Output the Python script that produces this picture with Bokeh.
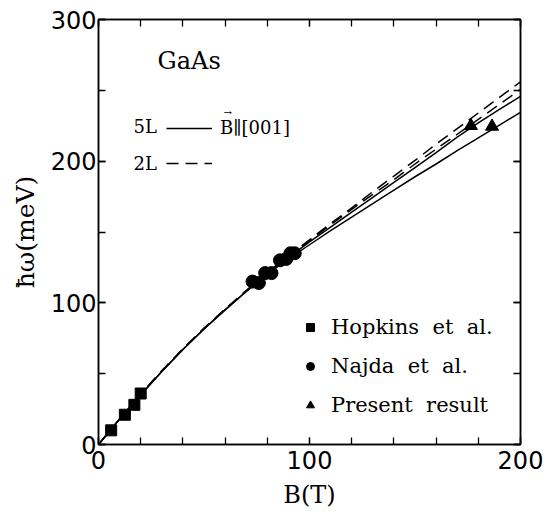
from bokeh.plotting import figure
from bokeh.models import (Range1d, LinearAxis, SingleIntervalTicker, Legend, LegendItem, Label,
                          CustomJSTickFormatter)
from bokeh.embed import file_html
from bokeh.resources import INLINE

# ---- data ----
B_curve = [0, 10, 20, 30, 40, 50, 60, 70, 80, 90, 100, 110, 120, 130, 140, 150, 160, 170, 180, 190, 200]
solid_upper = [0, 18, 35, 51.5, 67, 81.5, 95, 108, 120.5, 132, 143, 153.5, 164, 174.5, 185, 195.5, 206, 217, 227, 236.5, 245.8]
solid_lower = [0, 18, 35, 51.5, 67, 81.5, 95, 108, 120.3, 131, 141, 151, 160.5, 170, 179.5, 189, 198, 207.5, 216.5, 225.5, 234.5]
dash_lower = [0, 18, 35.5, 52, 67.5, 82, 95.5, 108.5, 121, 132.5, 144, 155, 166, 176.5, 187, 198, 208.5, 219, 229.5, 240, 250.7]
dash_upper = [0, 18, 35.5, 52, 67.5, 82, 95.5, 108.7, 121.5, 133, 144.5, 156, 167, 178.5, 189.5, 200.5, 212, 223, 234, 245, 256]

hopkins_B = [6, 12.5, 17, 20]
hopkins_w = [10, 21, 28, 36]
najda_B = [73, 76, 79, 82, 86, 89, 91, 93]
najda_w = [115, 114, 121, 121, 130, 131, 135, 135]
present_B = [176.5, 186.5]
present_w = [225, 224.5]

serif = "DejaVu Serif"
sans = "DejaVu Sans"

p = figure(width=553, height=517, x_range=Range1d(0, 200), y_range=Range1d(0, 300),
           output_backend="svg", toolbar_location=None,
           min_border_left=98, min_border_right=33, min_border_top=19, min_border_bottom=73,
           x_axis_location=None, y_axis_location=None)
p.grid.visible = False
p.outline_line_color = "black"
p.outline_line_width = 1.5
p.background_fill_color = "white"
p.border_fill_color = "white"

blank = CustomJSTickFormatter(code="return ''")


def style_axis(ax, labels=True):
    ax.axis_line_width = 1.5
    ax.axis_line_color = "black"
    ax.major_tick_in = 7
    ax.major_tick_out = 0
    ax.minor_tick_in = 7
    ax.minor_tick_out = 0
    ax.major_tick_line_width = 1.3
    ax.minor_tick_line_width = 1.3
    ax.major_tick_line_color = "black"
    ax.minor_tick_line_color = "black"
    ax.major_label_text_font = sans
    ax.major_label_text_font_size = "24px"
    ax.major_label_text_color = "black"
    ax.axis_label_text_color = "black"
    if not labels:
        ax.formatter = blank
        ax.major_label_standoff = 0


xb = LinearAxis(ticker=SingleIntervalTicker(interval=100, num_minor_ticks=5))
style_axis(xb)
xb.major_label_standoff = 6
xb.axis_label = "B(T)"
xb.axis_label_text_font = serif
xb.axis_label_text_font_size = "24px"
xb.axis_label_text_font_style = "normal"
xb.axis_label_standoff = 9
p.add_layout(xb, "below")

yl = LinearAxis(ticker=SingleIntervalTicker(interval=100, num_minor_ticks=2))
style_axis(yl)
yl.major_label_standoff = 2
yl.axis_label = "ħω(meV)"
yl.axis_label_text_font = serif
yl.axis_label_text_font_size = "25px"
yl.axis_label_text_font_style = "normal"
yl.axis_label_standoff = 8
p.add_layout(yl, "left")

xt = LinearAxis(ticker=SingleIntervalTicker(interval=100, num_minor_ticks=5))
style_axis(xt, labels=False)
p.add_layout(xt, "above")

yr = LinearAxis(ticker=SingleIntervalTicker(interval=100, num_minor_ticks=2))
style_axis(yr, labels=False)
p.add_layout(yr, "right")

# ---- curves ----
r_s1 = p.line(B_curve, solid_upper, line_color="black", line_width=1.5)
p.line(B_curve, solid_lower, line_color="black", line_width=1.5)
r_d1 = p.line(B_curve, dash_lower, line_color="black", line_width=1.5, line_dash="12 7")
p.line(B_curve, dash_upper, line_color="black", line_width=1.5, line_dash="12 7")

# ---- data points ----
r_h = p.scatter(hopkins_B, hopkins_w, marker="square", size=11, color="black")
r_n = p.scatter(najda_B, najda_w, marker="circle", size=13, color="black")
r_p = p.scatter(present_B, present_w, marker="triangle", size=13, color="black")

# ---- legends ----
leg_lines = Legend(items=[LegendItem(label="B\u2225[001]", renderers=[r_s1]),
                          LegendItem(label=" ", renderers=[r_d1])],
                   location=(68, 271), padding=0, margin=0, spacing=15,
                   glyph_width=46, glyph_height=20, label_height=20, label_standoff=8,
                   label_text_font=serif, label_text_font_size="18px", label_text_color="black",
                   border_line_color=None, background_fill_alpha=0)
p.add_layout(leg_lines)

leg_pts = Legend(items=[LegendItem(label="Hopkins  et  al.", renderers=[r_h]),
                        LegendItem(label="Najda  et  al.", renderers=[r_n]),
                        LegendItem(label="Present  result", renderers=[r_p])],
                 location=(202, 27), padding=0, margin=0, spacing=15,
                 glyph_width=20, glyph_height=20, label_height=20, label_standoff=11,
                 label_text_font=serif, label_text_font_size="21px", label_text_color="black",
                 border_line_color=None, background_fill_alpha=0)
p.add_layout(leg_pts)

# ---- text labels ----
for txt, x, y, fs in [("GaAs", 28, 270.4, "24px"), ("5L", 16.6, 224.6, "18px"),
                      ("2L", 16.6, 198.6, "18px"), ("\u2192", 61.2, 234.5, "10px")]:
    p.add_layout(Label(x=x, y=y, text=txt, text_font=serif, text_font_size=fs,
                       text_baseline="middle", text_align="left" if txt != "\u2192" else "center",
                       text_color="black"))

open("out.html", "w").write(file_html(p, INLINE))
